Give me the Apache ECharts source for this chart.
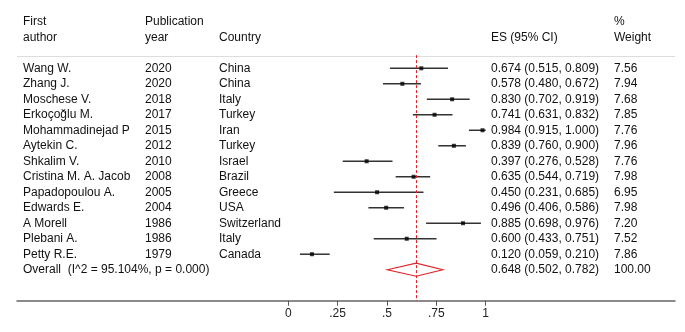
<!DOCTYPE html>
<html>
<head>
<meta charset="utf-8">
<script src="https://cdn.jsdelivr.net/npm/echarts@6/dist/echarts.min.js"></script>
<style>
  html, body { margin: 0; padding: 0; background: #fff; }
  #chart { width: 685px; height: 332px; }
</style>
</head>
<body>
<div id="chart"></div>
<script>
const authors = ["Wang W.", "Zhang J.", "Moschese V.", "Erkoçoğlu M.", "Mohammadinejad P", "Aytekin C.",
  "Shkalim V.", "Cristina M. A. Jacob", "Papadopoulou A.", "Edwards E.", "A Morell", "Plebani A.", "Petty R.E."];
const years = ["2020", "2020", "2018", "2017", "2015", "2012", "2010", "2008", "2005", "2004", "1986", "1986", "1979"];
const countries = ["China", "China", "Italy", "Turkey", "Iran", "Turkey", "Israel", "Brazil", "Greece", "USA",
  "Switzerland", "Italy", "Canada"];
const es = [0.674, 0.578, 0.830, 0.741, 0.984, 0.839, 0.397, 0.635, 0.450, 0.496, 0.885, 0.600, 0.120];
const ciLow = [0.515, 0.480, 0.702, 0.631, 0.915, 0.760, 0.276, 0.544, 0.231, 0.406, 0.698, 0.433, 0.059];
const ciHigh = [0.809, 0.672, 0.919, 0.832, 1.000, 0.900, 0.528, 0.719, 0.685, 0.586, 0.976, 0.751, 0.210];
const weights = ["7.56", "7.94", "7.68", "7.85", "7.76", "7.96", "7.76", "7.98", "6.95", "7.98", "7.20", "7.52", "7.86"];

const overallLabel = "Overall  (I^2 = 95.104%, p = 0.000)";
const overallEs = 0.648;
const overallLow = 0.502;
const overallHigh = 0.782;
const overallWeight = "100.00";

const headerTop = ["First", "Publication", "", "", "%"];
const headerBottom = ["author", "year", "Country", "ES (95% CI)", "Weight"];
const xTicks = [0, 0.25, 0.5, 0.75, 1];

// pixel x of each text column
const colX = [23, 145, 219, 491, 614];
const fmt = v => v.toFixed(3);

const tableRows = [];
tableRows.push({ row: -3, cells: headerTop });
tableRows.push({ row: -2, cells: headerBottom });
authors.forEach((a, i) => {
  tableRows.push({
    row: i,
    cells: [a, years[i], countries[i], fmt(es[i]) + " (" + fmt(ciLow[i]) + ", " + fmt(ciHigh[i]) + ")", weights[i]]
  });
});
const overallRow = authors.length;
tableRows.push({
  row: overallRow,
  cells: [overallLabel, "", "", fmt(overallEs) + " (" + fmt(overallLow) + ", " + fmt(overallHigh) + ")", overallWeight]
});

const font = '"Liberation Sans", Arial, sans-serif';
const chart = echarts.init(document.getElementById("chart"));

chart.setOption({
  animation: false,
  grid: { left: 17, right: 10, top: 6.33, bottom: 31.3 },
  xAxis: {
    type: "value",
    min: -1.374,
    max: 1.959,
    splitLine: { show: false },
    axisLine: { show: true, onZero: false, lineStyle: { color: "#666", width: 1.5 } },
    axisTick: { show: true, inside: false, customValues: xTicks, length: 5, lineStyle: { color: "#555", width: 1 } },
    axisLabel: {
      customValues: xTicks,
      margin: 7,
      color: "#222",
      fontSize: 12,
      fontFamily: font,
      formatter: v => (v === 0 || v === 1) ? String(v) : String(v).replace(/^0/, "")
    }
  },
  yAxis: {
    type: "value",
    inverse: true,
    min: -4,
    max: 15,
    show: false
  },
  series: [
    {
      // table text
      type: "custom",
      clip: false,
      silent: true,
      data: tableRows.map(r => [0, r.row]),
      renderItem: function (params, api) {
        const r = tableRows[params.dataIndex];
        const y = api.coord([0, r.row])[1];
        return {
          type: "group",
          children: r.cells.map((t, c) => ({
            type: "text",
            style: {
              text: t,
              x: colX[c],
              y: y,
              textVerticalAlign: "middle",
              verticalAlign: "middle",
              fill: "#111",
              font: "12px " + font
            }
          }))
        };
      },
      markLine: {
        silent: true,
        symbol: "none",
        label: { show: false },
        lineStyle: { color: "#ddd", width: 1, type: "solid" },
        data: [{ yAxis: -0.8 }]
      }
    },
    {
      // confidence intervals
      type: "custom",
      clip: false,
      data: es.map((v, i) => [ciLow[i], ciHigh[i], i]),
      renderItem: function (params, api) {
        const p1 = api.coord([api.value(0), api.value(2)]);
        const p2 = api.coord([api.value(1), api.value(2)]);
        return {
          type: "line",
          shape: { x1: p1[0], y1: p1[1], x2: p2[0], y2: p2[1] },
          style: { stroke: "#333", lineWidth: 1.5 }
        };
      }
    },
    {
      type: "scatter",
      symbol: "rect",
      symbolSize: 4,
      itemStyle: { color: "#000" },
      data: es.map((v, i) => [v, i]),
      markLine: {
        silent: true,
        symbol: "none",
        label: { show: false },
        lineStyle: { color: "#e0242a", width: 1, type: [3, 2] },
        data: [[{ coord: [overallEs, -0.85] }, { coord: [overallEs, 15] }]]
      }
    },
    {
      // pooled diamond
      type: "custom",
      clip: false,
      data: [[overallLow, overallEs, overallHigh, overallRow]],
      renderItem: function (params, api) {
        const row = api.value(3);
        const l = api.coord([api.value(0), row]);
        const t = api.coord([api.value(1), row - 0.42]);
        const r = api.coord([api.value(2), row]);
        const b = api.coord([api.value(1), row + 0.42]);
        return {
          type: "polygon",
          shape: { points: [l, t, r, b] },
          style: { fill: "rgba(255,255,255,0)", stroke: "#e0242a", lineWidth: 1.2 }
        };
      }
    }
  ]
});
</script>
</body>
</html>
